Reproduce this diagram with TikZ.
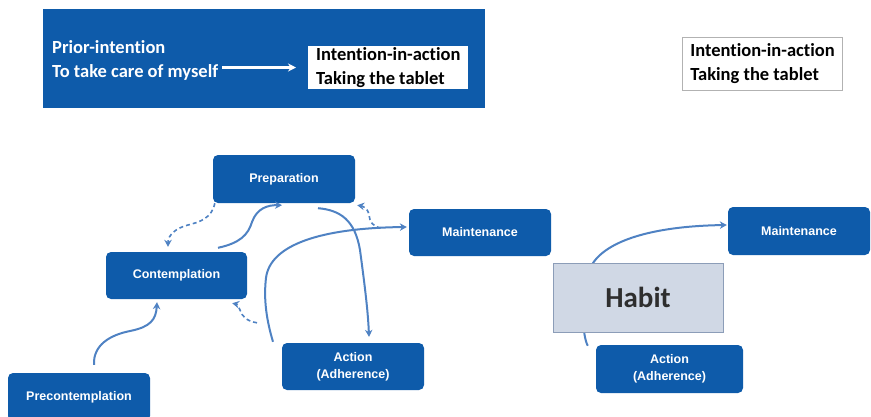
\documentclass[tikz,border=0pt]{standalone}
\usepackage{fontspec}
\setmainfont{Liberation Sans}
\newfontfamily\calibri[Ligatures=NoCommon]{Carlito}
\usetikzlibrary{arrows.meta}
\definecolor{stageblue}{HTML}{0E5BAA}
\definecolor{linkblue}{HTML}{4F82C3}
\definecolor{habitfill}{HTML}{D0D8E5}
\definecolor{habitline}{HTML}{8C9DB8}
\begin{document}
\begin{tikzpicture}[x=1pt,y=-1pt,
  stage/.style={fill=stageblue, rounded corners=5pt, text=white,
    font=\bfseries\fontsize{12.5}{17}\selectfont, align=center,
    minimum width=142pt, minimum height=48pt, inner sep=0pt},
  link/.style={draw=linkblue, line width=2pt, -{Stealth[length=7pt,width=7.5pt]}},
  back/.style={link, line width=1.6pt, dash pattern=on 4pt off 3pt},
  note/.style={font=\calibri\bfseries\fontsize{18.5}{24}\selectfont, align=left, inner sep=0pt},
]
\useasboundingbox (0,0) rectangle (871,416);

% intention panel
\node[fill=stageblue, minimum width=442pt, minimum height=99pt, inner sep=0pt, anchor=north west] (panel) at (43,9) {};
\node[note, text=white, anchor=west] (prior) at (52,60.5) {Prior-intention\\To take care of myself};
\node[note, fill=white, text=black, anchor=west, inner xsep=8pt, minimum height=43pt] (iaa) at (308,67.5) {Intention-in-action\\Taking the tablet};
\draw[white, line width=2.4pt, -{Stealth[length=8pt,width=8pt]}] ([xshift=4pt]prior.east |- iaa.west) -- ([xshift=-12pt]iaa.west);

\node[note, draw=gray!60, line width=0.8pt, fill=white, text=black, anchor=west, inner xsep=8pt, minimum height=53pt] (iaa2) at (682,63.5) {Intention-in-action\\Taking the tablet};

% stages of change
\node[stage] (prep) at (284,179) {Preparation};
\node[stage, minimum width=141pt, minimum height=47pt] (cont) at (176.5,275.5) {Contemplation};
\node[stage] (pre) at (79,397) {Precontemplation};
\node[stage, minimum height=47pt] (act) at (353,366.5) {Action\\(Adherence)};
\node[stage, minimum height=47pt] (maint) at (480,232.5) {Maintenance};

% forward transitions
\draw[link] ([xshift=15pt,yshift=8pt]pre.north) .. controls (93,345) and (110,335) .. (130,331)
  .. controls (150,327) and (156,320) .. ([xshift=-19.5pt,yshift=-3pt]cont.south);
\draw[link] ([xshift=41.5pt,yshift=4pt]cont.north) .. controls (240,243) and (248,235) .. (252,222)
  .. controls (257,208) and (268,205) .. ([xshift=-2pt,yshift=-2pt]prep.south);
\draw[link] ([xshift=34pt,yshift=-5pt]prep.south) .. controls (340,210) and (355,220) .. (360,250)
  .. controls (364,280) and (368,310) .. ([xshift=16pt,yshift=6pt]act.north);
\draw[link] ([xshift=-80pt,yshift=1pt]act.north) .. controls (265,315) and (264,295) .. (266,278)
  .. controls (270,245) and (320,228) .. ([xshift=-2pt,yshift=5.5pt]maint.west);

% relapse transitions
\draw[back] ([xshift=2pt]prep.south west) .. controls (212,218) and (200,222) .. (188,225)
  .. controls (176,228) and (168,235) .. ([xshift=-8.5pt,yshift=5pt]cont.north);
\draw[back] ([xshift=-28pt,yshift=4.5pt]maint.west) .. controls (372,226) and (370,222) .. (369,215)
  .. controls (368,208) and (362,206) .. ([xshift=2pt,yshift=-2pt]prep.south east);
\draw[back] ([xshift=-96pt,yshift=20pt]act.north) .. controls (246,321) and (242,316) .. (240,310)
  .. controls (238,305) and (236,304) .. ([xshift=-15pt,yshift=-4pt]cont.south east);

% habit route
\node[stage] (maint2) at (799,231) {Maintenance};
\node[stage, minimum width=147pt] (act2) at (669.5,369) {Action\\(Adherence)};
\draw[link] ([xshift=-8pt,yshift=-1pt]act2.north west) .. controls (582,335) and (580,300) .. (593,263)
  .. controls (610,238) and (660,226) .. ([xshift=-1pt,yshift=6pt]maint2.west);
\node[fill=habitfill, draw=habitline, line width=0.8pt, minimum width=170pt, minimum height=69pt,
  font=\calibri\bfseries\fontsize{29}{29}\selectfont, text=black!82] (habit) at (638,297.5) {Habit};
\end{tikzpicture}
\end{document}
